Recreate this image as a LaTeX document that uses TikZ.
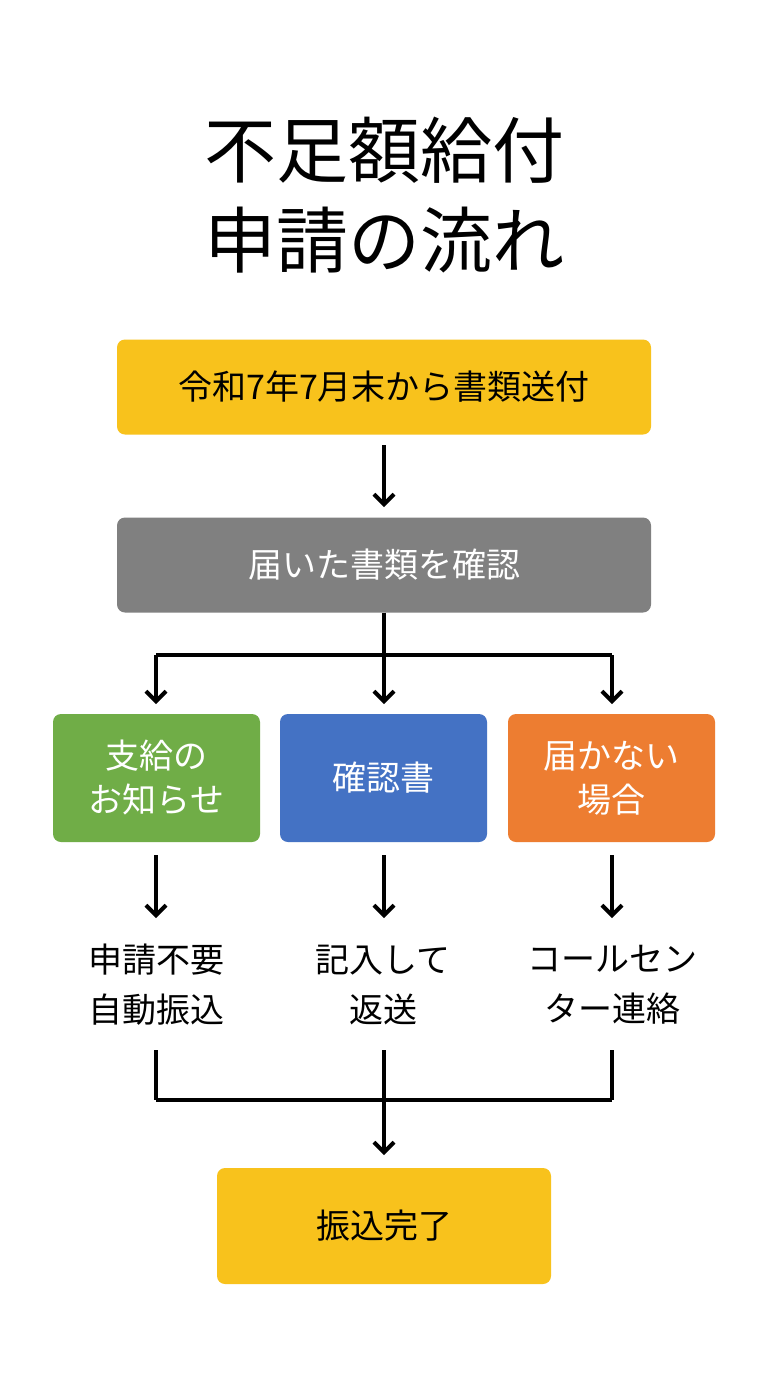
\documentclass[tikz,border=0pt]{standalone}
\usepackage{fontspec}
\setmainfont{Noto Sans CJK JP}
\usetikzlibrary{arrows.meta}
\definecolor{yel}{HTML}{F8C21C}
\definecolor{gry}{HTML}{808080}
\definecolor{grn}{HTML}{70AD47}
\definecolor{blu}{HTML}{4472C4}
\definecolor{org}{HTML}{ED7D31}
\begin{document}
\begin{tikzpicture}[x=1pt,y=-1pt,
 box/.style={rounded corners=8pt,minimum width=#1,align=center,inner sep=0pt},
 wide/.style={box=534pt,minimum height=95pt,font=\fontsize{34}{40}\selectfont},
 small/.style={box=207pt,minimum height=128pt,font=\fontsize{34}{44}\selectfont,text=white},
 lbl/.style={align=center,font=\fontsize{34}{50}\selectfont},
 ln/.style={line width=4pt},
 ar/.style={ln,-{Straight Barb[length=10pt,width=20pt,line width=4pt]}}]
\useasboundingbox (0,0) rectangle (768,1376);
\fill[white] (0,0) rectangle (768,1376);
\node[lbl,font=\fontsize{72}{90}\selectfont] (title) at (384,195) {不足額給付\\申請の流れ};
\node[wide,fill=yel] (b1) at (384,387) {令和7年7月末から書類送付};
\node[wide,fill=gry,text=white] (b2) at (384,565) {届いた書類を確認};
\node[small,fill=grn] (g) at (156.5,778) {支給の\\お知らせ};
\node[small,fill=blu] (bl) at (383.5,778) {確認書};
\node[small,fill=org] (o) at (611.5,778) {届かない\\場合};
\node[lbl] (t1) at (156,985) {申請不要\\自動振込};
\node[lbl] (t2) at (383,985) {記入して\\返送};
\node[lbl] (t3) at (612,985) {コールセン\\ター連絡};
\node[box=334pt,minimum height=116pt,fill=yel,font=\fontsize{34}{40}\selectfont] (f) at (384,1226) {振込完了};
\coordinate (s1) at (384,445); \coordinate (e1) at (384,507);
\draw[ar] (s1) -- (e1);
\coordinate (j) at (384,655);
\coordinate (jl) at (156,655); \coordinate (jr) at (612,655);
\draw[ln] (b2.south) -- (j);
\draw[ln] (jl) -- (jr);
\draw[ar] (jl) -- (156,704);
\draw[ar] (j) -- (384,704);
\draw[ar] (jr) -- (612,704);
\foreach \x/\n in {156/a,384/b,612/c}{
 \coordinate (u\n) at (\x,855); \coordinate (v\n) at (\x,918);
 \draw[ar] (u\n) -- (v\n);
 \coordinate (p\n) at (\x,1050); \coordinate (q\n) at (\x,1100);
 \draw[ln] (p\n) -- (q\n);
}
\draw[ln] (qa) -- (qc);
\draw[ar] (qb) -- (384,1155);
\end{tikzpicture}
\end{document}
